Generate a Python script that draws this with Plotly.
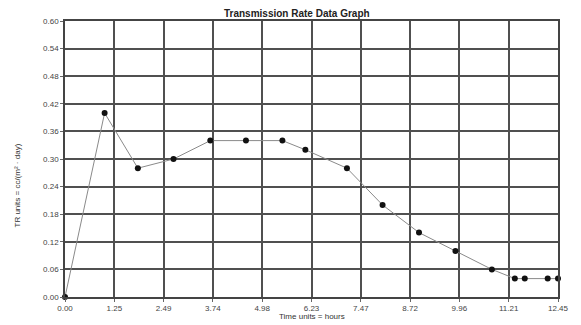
import plotly.graph_objects as go

x_hours = [0.0, 1.0, 1.84, 2.74, 3.67, 4.57, 5.49, 6.07, 7.12, 8.02, 8.94, 9.86, 10.78, 11.36, 11.61, 12.19, 12.45]
tr_values = [0.0, 0.40, 0.28, 0.30, 0.34, 0.34, 0.34, 0.32, 0.28, 0.20, 0.14, 0.10, 0.06, 0.04, 0.04, 0.04, 0.04]
x_tickvals = [0.0, 1.245, 2.49, 3.735, 4.98, 6.225, 7.47, 8.715, 9.96, 11.205, 12.45]
x_ticktext = ["0.00", "1.25", "2.49", "3.74", "4.98", "6.23", "7.47", "8.72", "9.96", "11.21", "12.45"]
y_tickvals = [0.0, 0.06, 0.12, 0.18, 0.24, 0.30, 0.36, 0.42, 0.48, 0.54, 0.60]
y_ticktext = ["0.00", "0.06", "0.12", "0.18", "0.24", "0.30", "0.36", "0.42", "0.48", "0.54", "0.60"]

fig = go.Figure()
fig.add_trace(go.Scatter(
    x=x_hours, y=tr_values, mode="lines+markers",
    line=dict(color="#8a8a8a", width=1),
    marker=dict(color="#111111", size=6),
    cliponaxis=False, showlegend=False,
))

axis_common = dict(
    showgrid=True, gridcolor="#505050", gridwidth=1.5,
    showline=True, linecolor="#444444", linewidth=1.5, mirror=True,
    zeroline=False,
    tickfont=dict(family="Liberation Sans, Arial", size=8, color="#444444"),
    ticks="outside", ticklen=3, tickcolor="#666666",
)

fig.update_xaxes(range=[0, 12.45], tickvals=x_tickvals, ticktext=x_ticktext, **axis_common)
fig.update_yaxes(range=[0, 0.60], tickvals=y_tickvals, ticktext=y_ticktext, **axis_common)

W, H = 581, 325
pl, pr, pt, pb = 65, 12, 21, 27
pw, ph = W - pl - pr, H - pt - pb

fig.update_layout(
    width=W, height=H,
    margin=dict(l=pl, r=pr, t=pt, b=pb),
    paper_bgcolor="white", plot_bgcolor="white",
)

def px(xp):
    return (xp - pl) / pw

def py(yp):
    return (H - pb - yp) / ph

fig.add_annotation(text="<b>Transmission Rate Data Graph</b>", x=px(302), y=py(13),
                   xref="paper", yref="paper", showarrow=False, xanchor="center", yanchor="middle",
                   font=dict(family="Liberation Sans, Arial", size=10, color="#222222"))
fig.add_annotation(text="Time units = hours", x=px(317), y=py(318),
                   xref="paper", yref="paper", showarrow=False, xanchor="center", yanchor="middle",
                   font=dict(family="Liberation Sans, Arial", size=8, color="#333333"))
fig.add_annotation(text="TR units = cc/(m² · day)", x=px(16), y=py(186), textangle=-90,
                   xref="paper", yref="paper", showarrow=False, xanchor="center", yanchor="middle",
                   font=dict(family="Liberation Sans, Arial", size=8, color="#333333"))

fig.write_html("out.html")
